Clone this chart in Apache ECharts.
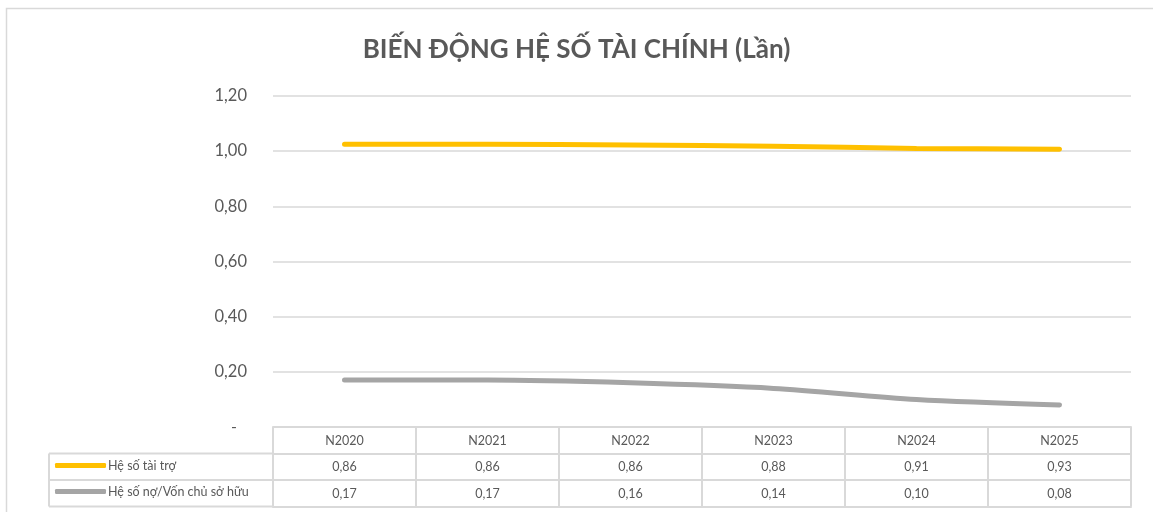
<!DOCTYPE html>
<html>
<head>
<meta charset="utf-8">
<script src="https://cdn.jsdelivr.net/npm/echarts@6/dist/echarts.min.js"></script>
<style>
  html, body { margin: 0; padding: 0; background: #fff; }
  #main { width: 1153px; height: 512px; }
</style>
</head>
<body>
<div id="main"></div>
<script>
// categories + values
var years = ['N2020', 'N2021', 'N2022', 'N2023', 'N2024', 'N2025'];
var seriesNames = ['Hệ số tài trợ', 'Hệ số nợ/Vốn chủ sở hữu'];
// values printed in the data table
var fundingTable = [0.86, 0.86, 0.86, 0.88, 0.91, 0.93];
var debtTable = [0.17, 0.17, 0.16, 0.14, 0.10, 0.08];
// values as plotted by the yellow line (it sits near 1,0 in the picture)
var fundingLine = [1.025, 1.025, 1.022, 1.018, 1.010, 1.007];
var debtLine = [0.17, 0.17, 0.16, 0.14, 0.10, 0.08];

var TXT = '#595959', BORDER = '#d9d9d9';
var FONT = 'Lato, "Noto Sans", sans-serif';

function fmt(v) {
  return v.toFixed(2).replace('.', ',');
}

var chart = echarts.init(document.getElementById('main'));

var gridTop = 96, gridBottom = 85, rowH = 26.5;

// table rows are extra x axes stacked under the grid
function tableAxis(offset, labels) {
  return {
    type: 'category',
    data: years,
    position: 'bottom',
    offset: offset,
    boundaryGap: true,
    axisLine: { show: true, lineStyle: { color: BORDER, width: 2 } },
    axisTick: { show: false },
    axisLabel: labels ? {
      show: true, color: TXT, fontSize: 12.5, fontFamily: FONT, margin: 7,
      formatter: function (v, i) { return labels[i]; }
    } : { show: false },
    splitLine: { show: false }
  };
}

function legendRow(name, top) {
  return {
    data: [name], left: 55, top: top, orient: 'vertical', padding: 0,
    itemWidth: 51, itemHeight: 5, itemGap: 0, icon: 'roundRect',
    textStyle: { color: TXT, fontSize: 12.5, fontFamily: FONT, padding: [0, 0, 0, -3] },
    selectedMode: false
  };
}

var option = {
  backgroundColor: '#fff',
  animation: false,
  title: {
    text: 'BIẾN ĐỘNG HỆ SỐ TÀI CHÍNH (Lần)',
    left: 'center',
    top: 32,
    padding: [5, 0, 5, 14],
    textStyle: { color: TXT, fontSize: 26, fontWeight: 'bold', fontFamily: FONT }
  },
  legend: [
    legendRow(seriesNames[0], 459),
    legendRow(seriesNames[1], 485)
  ],
  grid: { left: 273, right: 22, top: gridTop, bottom: gridBottom, containLabel: false },
  xAxis: [
    {
      type: 'category',
      data: years,
      boundaryGap: true,
      position: 'bottom',
      axisLine: { show: true, lineStyle: { color: BORDER, width: 2 } },
      axisTick: { show: true, length: rowH * 3, lineStyle: { color: BORDER, width: 2 } },
      axisLabel: { color: TXT, fontSize: 12.5, fontFamily: FONT, margin: 7 },
      splitLine: { show: false }
    },
    tableAxis(rowH, fundingTable.map(fmt)),
    tableAxis(rowH * 2, debtTable.map(fmt)),
    tableAxis(rowH * 3, null)
  ],
  yAxis: {
    type: 'value',
    min: 0,
    max: 1.2,
    interval: 0.2,
    axisLine: { show: false },
    axisTick: { show: false },
    axisLabel: {
      color: TXT, fontSize: 16.5, fontFamily: FONT, margin: 26,
      formatter: function (v) {
        return v === 0 ? '{d|-}' : fmt(v);
      },
      rich: { d: { color: TXT, fontSize: 16, fontFamily: FONT, padding: [0, 10, 0, 0] } }
    },
    splitLine: { lineStyle: { color: BORDER, width: 1.5 } }
  },
  series: [
    {
      name: seriesNames[0],
      type: 'line',
      data: fundingLine,
      smooth: 0.3,
      showSymbol: false,
      symbol: 'none',
      color: '#FFC000',
      lineStyle: { color: '#FFC000', width: 5, cap: 'round' },
      z: 3
    },
    {
      name: seriesNames[1],
      type: 'line',
      data: debtLine,
      smooth: 0.3,
      showSymbol: false,
      symbol: 'none',
      color: '#A5A5A5',
      lineStyle: { color: '#A5A5A5', width: 5, cap: 'round' },
      z: 3
    }
  ],
  graphic: [
    // outer chart border
    { type: 'rect', shape: { x: 6.5, y: 8.5, width: 1300, height: 700 },
      style: { fill: null, stroke: BORDER, lineWidth: 1.5 }, silent: true },
    // legend column of the data table
    { type: 'line', shape: { x1: 49, y1: 512 - gridBottom + rowH, x2: 273, y2: 512 - gridBottom + rowH },
      style: { stroke: BORDER, lineWidth: 2 }, silent: true },
    { type: 'line', shape: { x1: 49, y1: 512 - gridBottom + rowH * 2, x2: 273, y2: 512 - gridBottom + rowH * 2 },
      style: { stroke: BORDER, lineWidth: 2 }, silent: true },
    { type: 'line', shape: { x1: 49, y1: 512 - gridBottom + rowH * 3, x2: 273, y2: 512 - gridBottom + rowH * 3 },
      style: { stroke: BORDER, lineWidth: 2 }, silent: true },
    { type: 'line', shape: { x1: 49, y1: 512 - gridBottom + rowH, x2: 49, y2: 512 - gridBottom + rowH * 3 },
      style: { stroke: BORDER, lineWidth: 2 }, silent: true }
  ]
};

chart.setOption(option);
</script>
</body>
</html>
